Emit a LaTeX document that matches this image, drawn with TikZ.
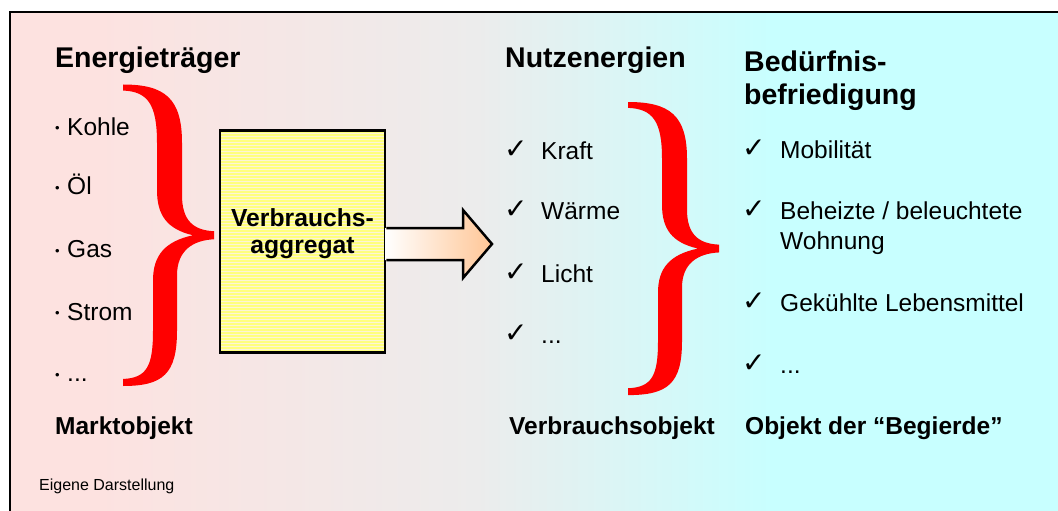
\documentclass[tikz,border=0pt]{standalone}
\usepackage{fontspec}
\setmainfont{Liberation Sans}
\newfontfamily\djv{DejaVu Sans}
\usetikzlibrary{calc}
\definecolor{bgpink}{RGB}{253,226,224}
\definecolor{bgmid}{RGB}{236,236,236}
\definecolor{bgcyan}{RGB}{200,255,255}
\definecolor{peach}{RGB}{255,198,150}
\definecolor{boxbase}{RGB}{252,244,214}
\definecolor{boxline}{RGB}{255,255,125}
\pgfdeclarehorizontalshading{bgshade}{100bp}{color(0bp)=(bgpink); color(29bp)=(bgpink); color(47bp)=(bgmid); color(61bp)=(bgcyan); color(100bp)=(bgcyan)}
\tikzset{
  head/.style={font=\fontsize{28.5}{32}\selectfont\bfseries, anchor=base west, inner sep=0pt},
  itm/.style={font=\fontsize{24.5}{28}\selectfont, anchor=base west, inner sep=0pt},
  chk/.style={font=\djv\fontsize{28}{28}\selectfont, anchor=base west, inner sep=0pt},
  lbl/.style={font=\fontsize{24.5}{28}\selectfont\bfseries, anchor=base west, inner sep=0pt},
  note/.style={font=\fontsize{16}{18}\selectfont, anchor=base west, inner sep=0pt},
  bracefill/.style={fill=red, draw=none},
  aggbox/.style={draw=black, line width=2.5pt, fill=boxbase, minimum width=165pt, minimum height=222pt, inner sep=0pt,
    path picture={
      \foreach \yy in {1,4,...,222} {
        \fill[boxline] ($(path picture bounding box.north west)+(0,\yy)$) rectangle ++(170,1.5);
      }
    }},
  aggtext/.style={font=\fontsize{24.7}{27}\selectfont\bfseries, align=center, inner sep=0pt},
  blockarrow/.style={left color=white, right color=peach},
}
\newcommand{\bul}{\makebox[12pt][l]{\fontsize{13}{13}\selectfont\raisebox{2.5pt}{•}}}
\newcommand{\bracepath}{%
  (0,0) .. controls (42,0) and (59,14) .. (59,58) -- (59,110)
  .. controls (59,135) and (70,145) .. (91,146) -- (91,154)
  .. controls (70,155) and (54,165) .. (54,190) -- (54,245)
  .. controls (54,288) and (40,300) .. (0,300) -- (0,293)
  .. controls (24,292) and (30,280) .. (30,245) -- (30,195)
  .. controls (30,170) and (42,156) .. (70,150)
  .. controls (44,144) and (34,130) .. (34,105) -- (34,58)
  .. controls (34,20) and (25,7) .. (0,6) -- cycle}
\begin{document}
\begin{tikzpicture}[x=1pt, y=-1pt]
\useasboundingbox (0,0) rectangle (1058,511);
\clip (0,0) rectangle (1058,511);
% background frame
\path[shading=bgshade] (10,12) rectangle (1070,525);
\draw[line width=2.5pt] (10,525) -- (10,12) -- (1070,12);

% left column
\node[head] (h1) at (55,67) {Energieträger};
\node[itm] (i1) at (55,135) {\bul Kohle};
\node[itm] (i2) at (55,194.5) {\bul Öl};
\node[itm] (i3) at (55,257.5) {\bul Gas};
\node[itm] (i4) at (55,320) {\bul Strom};
\node[itm] (i5) at (55,381.5) {\bul ...};
\node[lbl] (b1) at (55,434) {Marktobjekt};
\node[note] (src) at (39,490) {Eigene Darstellung};

% left brace
\begin{scope}[shift={(123,84.5)}, yscale=1.005]
  \fill[bracefill] \bracepath;
\end{scope}

% box and arrow
\node[aggbox] (agg) at (302.5,241.25) {};
\node[aggtext] (aggl) at ([yshift=8pt]agg.center) {Verbrauchs-\\aggregat};
\coordinate (atip) at (492,244);
\fill[blockarrow] (385,228) -- (463,228) -- (463,210) -- (atip) -- (463,278) -- (463,260) -- (385,260) -- cycle;
\draw[line width=2.5pt, line join=miter] (agg.east |- 0,228) -- (463,228) -- (463,210) -- (atip) -- (463,278) -- (463,260) -- (agg.east |- 0,260);

% middle column
\node[head] (h2) at (505,67) {Nutzenergien};
\node[chk] (c1) at (504,158) {✓};
\node[itm] (m1) at (541,159) {Kraft};
\node[chk] (c2) at (504,218.5) {✓};
\node[itm] (m2) at (541,219.5) {Wärme};
\node[chk] (c3) at (504,281.5) {✓};
\node[itm] (m3) at (541,282.5) {Licht};
\node[chk] (c4) at (504,342) {✓};
\node[itm] (m4) at (541,343) {...};
\node[lbl] (b2) at (509,434) {Verbrauchsobjekt};

% middle brace
\begin{scope}[shift={(628,102)}, yscale=0.977]
  \fill[bracefill] \bracepath;
\end{scope}

% right column
\node[head] (h3) at (744,71) {Bedürfnis-};
\node[head] (h3b) at (744,104) {befriedigung};
\node[chk] (d1) at (742,157.5) {✓};
\node[itm] (r1) at (780,158.5) {Mobilität};
\node[chk] (d2) at (742,218) {✓};
\node[itm] (r2) at (780,219) {Beheizte / beleuchtete};
\node[itm] (r2b) at (780,249.5) {Wohnung};
\node[chk] (d3) at (742,310.5) {✓};
\node[itm] (r3) at (780,311.5) {Gekühlte Lebensmittel};
\node[chk] (d4) at (742,372) {✓};
\node[itm] (r4) at (780,373) {...};
\node[lbl] (b3) at (745,434) {Objekt der “Begierde”};
\end{tikzpicture}
\end{document}
